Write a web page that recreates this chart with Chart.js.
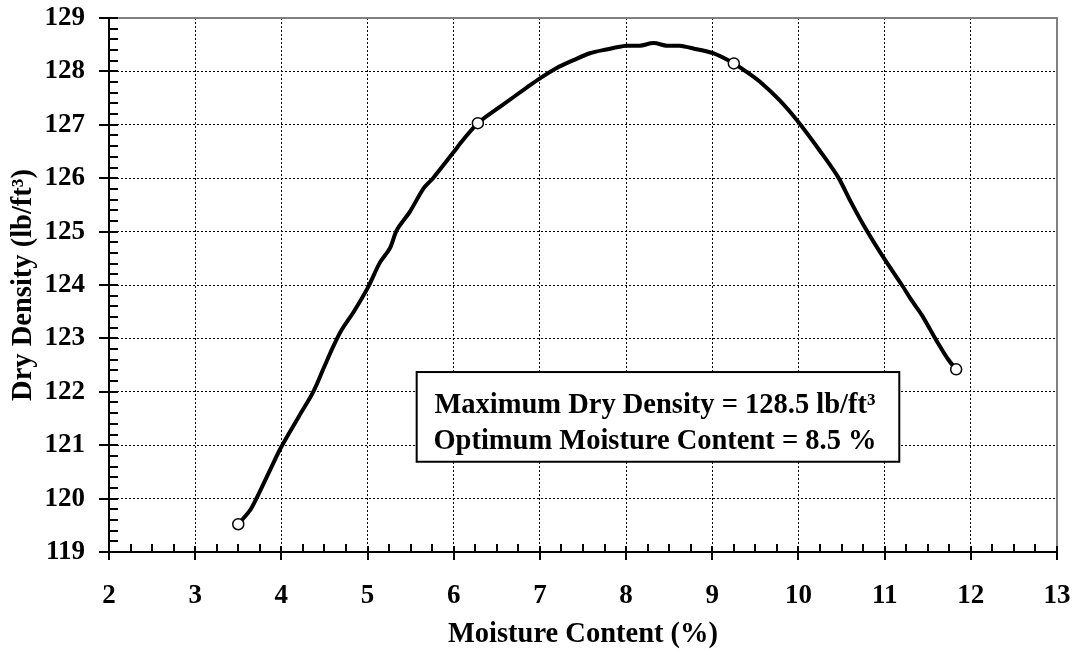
<!DOCTYPE html>
<html>
<head>
<meta charset="utf-8">
<script src="https://cdn.jsdelivr.net/npm/chart.js@4.4.0/dist/chart.umd.min.js"></script>
<style>
  body { margin: 0; background: #fff; }
  #wrap { width: 1078px; height: 655px; position: relative; }
</style>
</head>
<body>
<div id="wrap"><canvas id="chart_canvas"></canvas></div>
<script>
// fitted compaction curve
var curveMoisture = [3.50, 3.64, 3.71, 3.87, 4.00, 4.20, 4.37, 4.49, 4.60, 4.70,
  4.84, 5.01, 5.14, 5.26, 5.34, 5.49, 5.65, 5.76, 5.99, 6.11,
  6.28, 6.54, 6.85, 7.00, 7.19, 7.39, 7.58, 7.77, 8.00, 8.16,
  8.32, 8.47, 8.62, 8.78, 9.01, 9.25, 9.40, 9.55, 9.78, 10.01,
  10.25, 10.46, 10.60, 10.77, 10.98, 11.20, 11.31, 11.43, 11.52, 11.62,
  11.74, 11.83];
var curveDensity = [119.52, 119.79, 120.00, 120.54, 120.97, 121.53, 122.00, 122.44, 122.84, 123.16,
  123.50, 123.97, 124.41, 124.69, 125.03, 125.37, 125.81, 126.00, 126.47, 126.72,
  127.03, 127.34, 127.70, 127.87, 128.06, 128.21, 128.34, 128.41, 128.48, 128.48,
  128.53, 128.48, 128.48, 128.43, 128.34, 128.15, 127.99, 127.81, 127.46, 127.03,
  126.51, 126.02, 125.58, 125.08, 124.53, 124.00, 123.72, 123.44, 123.19, 122.91,
  122.60, 122.42];

// the four test points
var testMoisture = [3.50, 6.28, 9.25, 11.83];
var testDensity = [119.52, 127.03, 128.15, 122.42];

var xTicks = [2, 3, 4, 5, 6, 7, 8, 9, 10, 11, 12, 13];
var yTicks = [119, 120, 121, 122, 123, 124, 125, 126, 127, 128, 129];

var xTitle = 'Moisture Content (%)';
var yTitle = 'Dry Density (lb/ft\u00B3)';
var noteLines = ['Maximum Dry Density = 128.5 lb/ft\u00B3', 'Optimum Moisture Content = 8.5 %'];

var FONT = '"Liberation Serif", "Times New Roman", serif';

function toPoints(xs, ys) {
  var out = [];
  for (var i = 0; i < xs.length; i++) out.push({x: xs[i], y: ys[i]});
  return out;
}

var decor = {
  id: 'decor',
  afterDatasetsDraw: function(chart) {
    var ctx = chart.ctx, xs = chart.scales.x, ys = chart.scales.y;
    // note box (placed in data units)
    var l = xs.getPixelForValue(5.57), r = xs.getPixelForValue(11.17);
    var t = ys.getPixelForValue(122.37), b = ys.getPixelForValue(120.69);
    ctx.save();
    ctx.fillStyle = '#fff';
    ctx.fillRect(l, t, r - l, b - t);
    ctx.strokeStyle = '#000';
    ctx.lineWidth = 2;
    ctx.strokeRect(l, t, r - l, b - t);
    ctx.fillStyle = '#000';
    ctx.font = 'bold 28.5px ' + FONT;
    ctx.textAlign = 'center';
    ctx.textBaseline = 'alphabetic';
    var cx = (l + r) / 2 - 3;
    ctx.fillText(noteLines[0], cx, t + 41);
    ctx.fillText(noteLines[1], cx, t + 77);
    ctx.restore();
  },
  afterDraw: function(chart) {
    var ctx = chart.ctx, xs = chart.scales.x, ys = chart.scales.y, a = chart.chartArea;
    ctx.save();
    ctx.lineWidth = 2;
    ctx.strokeStyle = '#808080';
    ctx.beginPath();
    ctx.moveTo(a.left, a.top);
    ctx.lineTo(a.right, a.top);
    ctx.lineTo(a.right, a.bottom);
    ctx.stroke();

    ctx.strokeStyle = '#000';
    ctx.beginPath();
    ctx.moveTo(a.left, a.top);
    ctx.lineTo(a.left, a.bottom);
    ctx.lineTo(a.right, a.bottom);
    ctx.stroke();

    // y ticks: majors cross the axis, minors every 0.2 inside
    ctx.beginPath();
    for (var v = 119; v <= 129.001; v += 0.2) {
      var py = Math.round(ys.getPixelForValue(v));
      var major = Math.abs(v - Math.round(v)) < 0.01;
      ctx.moveTo(major ? a.left - 10 : a.left, py);
      ctx.lineTo(a.left + 9, py);
    }
    // x ticks: minors every 0.25
    for (var u = 2; u <= 13.001; u += 0.25) {
      var px = Math.round(xs.getPixelForValue(u));
      var maj = Math.abs(u - Math.round(u)) < 0.01;
      if (maj) {
        ctx.moveTo(px, a.bottom - 6);
        ctx.lineTo(px, a.bottom + 8);
      } else {
        ctx.moveTo(px, a.bottom - 8);
        ctx.lineTo(px, a.bottom);
      }
    }
    ctx.stroke();
    ctx.restore();
  }
};

var ctx = document.getElementById('chart_canvas').getContext('2d');
var myChart = new Chart(ctx, {
  type: 'scatter',
  data: {
    datasets: [{
      label: 'curve',
      data: toPoints(curveMoisture, curveDensity),
      showLine: true,
      borderColor: '#000',
      borderWidth: 4,
      pointRadius: 0,
      tension: 0.3,
      order: 2
    }, {
      label: 'tests',
      data: toPoints(testMoisture, testDensity),
      showLine: false,
      pointRadius: 5.5,
      pointBorderWidth: 1.5,
      pointBackgroundColor: '#fff',
      pointBorderColor: '#000',
      order: 1
    }]
  },
  options: {
    responsive: true,
    maintainAspectRatio: false,
    animation: false,
    layout: { padding: { top: 18, right: 21, left: 0, bottom: 0 } },
    plugins: { legend: { display: false }, tooltip: { enabled: false } },
    scales: {
      x: {
        type: 'linear',
        min: 2, max: 13,
        afterBuildTicks: function(scale) { scale.ticks = xTicks.map(function(v) { return {value: v}; }); },
        afterFit: function(scale) {
          scale.height = 103;
          // stop the label overflow from pushing the plot in
          scale.paddingLeft = 0;
          scale.paddingRight = 0;
        },
        ticks: { color: '#000', padding: 28, font: { family: FONT, size: 27, weight: 'bold' } },
        grid: { color: '#000', lineWidth: 1, drawTicks: false },
        border: { display: false, dash: [2, 2] },
        title: {
          display: true, text: xTitle, color: '#000',
          font: { family: FONT, size: 28.5, weight: 'bold' },
          padding: { top: 0, bottom: 3 }
        }
      },
      y: {
        type: 'linear',
        min: 119, max: 129,
        afterBuildTicks: function(scale) { scale.ticks = yTicks.map(function(v) { return {value: v}; }); },
        afterFit: function(scale) {
          scale.width = 109;
          scale.paddingTop = 0;
          scale.paddingBottom = 0;
        },
        ticks: { color: '#000', padding: 24, font: { family: FONT, size: 27, weight: 'bold' } },
        grid: { color: '#000', lineWidth: 1, drawTicks: false },
        border: { display: false, dash: [2, 2] },
        title: {
          display: true, text: yTitle, color: '#000',
          font: { family: FONT, size: 28.5, weight: 'bold' },
          padding: { top: 7, bottom: 0 }
        }
      }
    }
  },
  plugins: [decor]
});
</script>
</body>
</html>
